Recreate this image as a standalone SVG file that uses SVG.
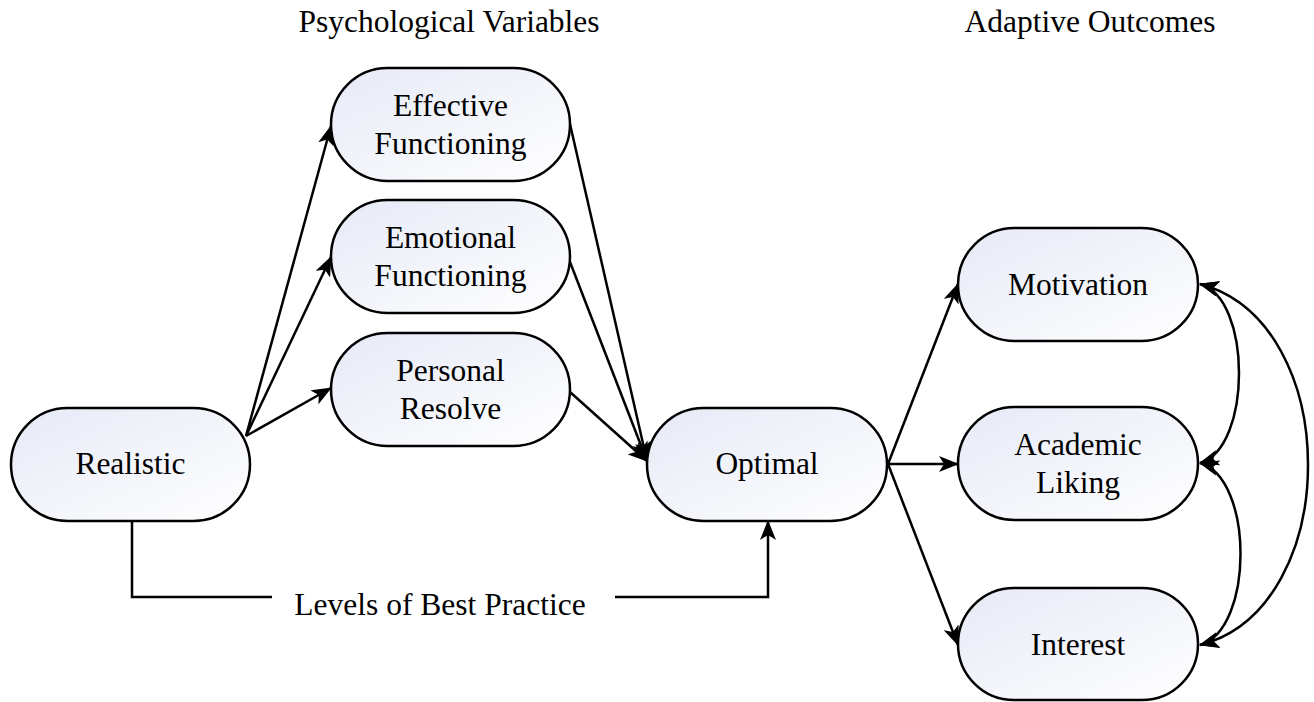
<svg xmlns="http://www.w3.org/2000/svg" width="1314" height="702" viewBox="0 0 1314 702">
<style>
.node{fill:url(#g);stroke:#000;stroke-width:2.5}
.t{font-family:"Liberation Serif","Times New Roman",serif;font-size:31.5px;fill:#000;text-anchor:middle}
.c{fill:none;stroke:#000;stroke-width:2.5}
</style>
<defs>
<linearGradient id="g" x1="0" y1="0" x2="1" y2="1">
<stop offset="0" stop-color="#e6eaf6"/>
<stop offset="1" stop-color="#ffffff"/>
</linearGradient>
<marker id="a" viewBox="0 0 20 16" refX="19" refY="8" markerWidth="20" markerHeight="16" markerUnits="userSpaceOnUse" orient="auto-start-reverse">
<path d="M0,0 L20,8 L0,16 L5,8 Z" fill="#000"/>
</marker>
</defs>
<rect width="1314" height="702" fill="#fff"/>
<text class="t" x="449" y="32">Psychological Variables</text>
<text class="t" x="1090" y="32">Adaptive Outcomes</text>
<g id="connectors">
<line class="c" x1="246" y1="436" x2="331" y2="126" marker-end="url(#a)"/>
<line class="c" x1="246" y1="436" x2="331" y2="257" marker-end="url(#a)"/>
<line class="c" x1="246" y1="436" x2="331" y2="388" marker-end="url(#a)"/>
<line class="c" x1="570" y1="124" x2="647" y2="461" marker-end="url(#a)"/>
<line class="c" x1="570" y1="262" x2="647" y2="461" marker-end="url(#a)"/>
<line class="c" x1="570" y1="392" x2="647" y2="461" marker-end="url(#a)"/>
<line class="c" x1="888" y1="464" x2="958" y2="284" marker-end="url(#a)"/>
<line class="c" x1="888" y1="464" x2="958" y2="464" marker-end="url(#a)"/>
<line class="c" x1="888" y1="464" x2="958" y2="645" marker-end="url(#a)"/>
<path class="c" d="M132,521 V597 H272"/>
<path class="c" d="M615,597 H768 V521" marker-end="url(#a)"/>
<path class="c" d="M1200,284 C1252,298 1252,448 1200,463" marker-start="url(#a)" marker-end="url(#a)"/>
<path class="c" d="M1200,463 C1254,478 1254,630 1200,645" marker-start="url(#a)" marker-end="url(#a)"/>
<path class="c" d="M1200,284 C1344,322 1344,608 1200,645" marker-start="url(#a)" marker-end="url(#a)"/>
</g>
<text class="t" x="440" y="615">Levels of Best Practice</text>
<g id="realistic"><rect class="node" x="11" y="408" width="239" height="113" rx="56.5"/><text class="t" x="130.5" y="474">Realistic</text></g>
<g id="effective"><rect class="node" x="331" y="68" width="239" height="113" rx="56.5"/><text class="t" x="450.5" y="116">Effective</text><text class="t" x="450.5" y="154">Functioning</text></g>
<g id="emotional"><rect class="node" x="331" y="200" width="239" height="113" rx="56.5"/><text class="t" x="450.5" y="248">Emotional</text><text class="t" x="450.5" y="286">Functioning</text></g>
<g id="personal"><rect class="node" x="331" y="333" width="239" height="113" rx="56.5"/><text class="t" x="450.5" y="381">Personal</text><text class="t" x="450.5" y="419">Resolve</text></g>
<g id="optimal"><rect class="node" x="647" y="408" width="240" height="113" rx="56.5"/><text class="t" x="767" y="474">Optimal</text></g>
<g id="motivation"><rect class="node" x="958" y="228" width="240" height="113" rx="56.5"/><text class="t" x="1078" y="295">Motivation</text></g>
<g id="academic"><rect class="node" x="958" y="407" width="240" height="113" rx="56.5"/><text class="t" x="1078" y="455">Academic</text><text class="t" x="1078" y="493">Liking</text></g>
<g id="interest"><rect class="node" x="958" y="588" width="240" height="112" rx="56"/><text class="t" x="1078" y="655">Interest</text></g>
</svg>
